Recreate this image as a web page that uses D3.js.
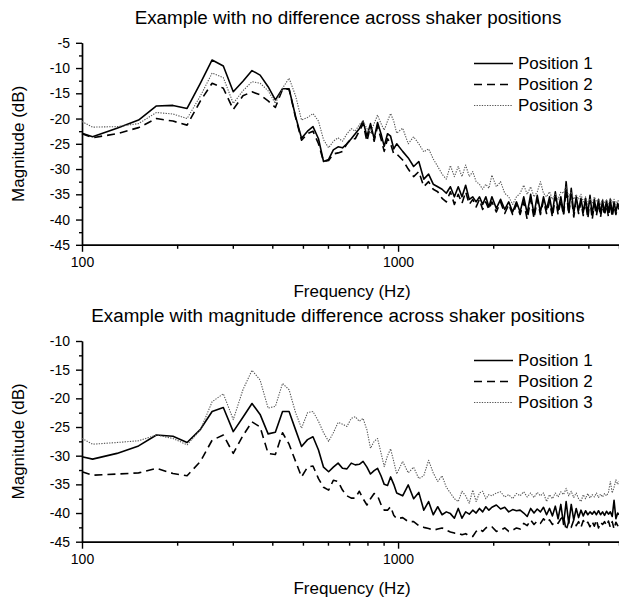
<!DOCTYPE html>
<html>
<head>
<meta charset="utf-8">
<script src="https://d3js.org/d3.v7.min.js"></script>
<style>
  body { margin: 0; background: #fff; }
  svg text { font-family: Arial, "Liberation Sans", sans-serif; fill: #000; }
</style>
</head>
<body>
<svg id="chart" width="619" height="599"></svg>
<script>
// Shaker position comparison - two frequency response panels

// frequency points (Hz), FFT bins below 1 kHz, thinned above
const freqHz = [100, 108, 129, 151, 172, 194, 215, 237, 258, 280, 301, 323, 345, 366, 388, 409, 431, 452, 474, 495,
  517, 538, 560, 581, 603, 624, 646, 667, 689, 711, 732, 754, 775, 797, 818, 840, 861, 883, 904, 926, 947, 969, 990,
  1034, 1077, 1120, 1163, 1206, 1249, 1292, 1335, 1378, 1421, 1464, 1507, 1550, 1593, 1636, 1680, 1723, 1766, 1809, 1852, 1895, 1938, 1981,
  2046, 2110, 2175, 2239, 2304, 2369, 2433, 2498, 2562, 2627, 2692, 2756, 2821, 2885, 2950, 3015, 3079, 3144, 3208, 3273,
  3338, 3402, 3467, 3531, 3596, 3661, 3725, 3790, 3854, 3919, 3984, 4048, 4113, 4177, 4242, 4307, 4371, 4436, 4500, 4565,
  4630, 4694, 4759, 4823, 4888, 4953, 5000];

// top panel: no difference
const topPos1 = [-22.9, -23.6, -21.9, -20.3, -17.5, -17.4, -18.0, -13.0, -8.4, -9.6, -14.7, -12.6, -10.5, -11.4, -13.7, -16.3, -14.1, -14.1, -19.6, -23.9,
  -22.5, -21.6, -24.0, -28.5, -28.1, -26.2, -25.6, -25.8, -25.0, -24.0, -23.0, -22.0, -20.5, -23.5, -21.0, -24.0, -20.8, -23.0, -25.5, -23.0, -23.5, -26.0, -25.0,
  -26.5, -27.8, -29.5, -28.5, -32.0, -31.0, -33.0, -33.5, -34.0, -34.8, -33.5, -35.5, -33.5, -35.5, -33.2, -36.0, -35.5, -36.5, -35.5, -37.0, -35.5, -37.5, -35.5,
  -37.8, -36.0, -38.0, -36.5, -38.5, -36.5, -38.5, -35.5, -38.8, -35.0, -39.0, -35.2, -38.5, -35.5, -38.0, -35.5, -38.8, -34.5, -38.2, -35.5,
  -38.8, -32.5, -38.5, -33.8, -38.8, -35.5, -38.2, -35.8, -38.6, -35.8, -38.8, -35.2, -39.0, -36.0, -38.5, -36.0, -38.8, -36.2, -38.6, -36.2,
  -38.5, -36.0, -38.8, -36.5, -38.5, -36.8, -37.5];
const topPos2 = [-23.0, -23.8, -23.0, -21.8, -20.0, -20.5, -21.3, -16.5, -13.0, -14.0, -18.2, -15.5, -14.7, -15.3, -16.5, -17.8, -14.2, -14.2, -19.8, -24.3,
  -23.0, -22.5, -25.0, -28.5, -28.3, -27.0, -26.8, -26.5, -25.0, -24.0, -24.0, -22.5, -21.0, -24.5, -21.5, -24.5, -21.5, -24.0, -26.5, -24.0, -25.0, -27.0, -27.0,
  -28.2, -30.0, -31.5, -30.5, -33.5, -32.5, -34.0, -34.5, -35.8, -36.5, -34.5, -37.0, -35.0, -36.8, -34.5, -37.0, -36.0, -37.5, -36.0, -38.0, -36.5, -38.0, -36.5,
  -38.5, -36.5, -38.8, -37.0, -39.0, -37.0, -39.0, -36.5, -40.0, -36.0, -39.8, -36.0, -39.0, -36.2, -38.8, -36.5, -39.5, -35.5, -39.0, -36.2,
  -39.2, -34.0, -39.0, -35.0, -39.5, -36.2, -38.8, -36.5, -39.2, -36.5, -39.8, -36.0, -40.0, -37.0, -39.2, -36.8, -39.5, -37.0, -39.2, -37.0,
  -39.5, -36.8, -39.5, -37.2, -39.0, -37.5, -38.0];
const topPos3 = [-20.6, -21.7, -21.6, -21.0, -18.8, -19.1, -20.0, -15.5, -11.0, -11.9, -17.0, -14.5, -12.7, -13.0, -14.5, -17.0, -14.0, -12.0, -15.5, -20.3,
  -19.8, -19.0, -20.5, -24.2, -25.8, -24.5, -23.8, -24.5, -23.0, -22.0, -22.5, -21.2, -20.5, -22.0, -22.8, -21.0, -19.3, -21.0, -22.3, -20.5, -19.0, -20.5, -22.9,
  -21.9, -25.0, -23.6, -25.0, -26.6, -26.0, -28.0, -29.5, -31.0, -32.0, -29.3, -31.5, -29.5, -31.5, -29.2, -31.5, -30.5, -32.5, -33.0, -34.0, -33.0, -33.8, -31.2,
  -33.5, -32.5, -34.8, -35.5, -37.0, -35.5, -34.8, -33.2, -35.0, -33.5, -35.5, -34.5, -32.5, -34.8, -35.5, -34.5, -36.0, -35.0, -36.0, -34.5,
  -34.8, -33.5, -35.5, -34.5, -36.0, -35.0, -36.0, -35.0, -36.5, -35.5, -37.0, -35.8, -36.8, -35.5, -36.5, -36.0, -37.0, -36.0, -36.8, -36.2,
  -37.0, -35.8, -36.8, -36.0, -37.0, -36.2, -36.5];

// bottom panel: magnitude difference
const botPos1 = [-30.2, -30.6, -29.6, -28.3, -26.4, -26.6, -27.7, -25.4, -22.3, -21.6, -25.8, -23.3, -20.9, -22.8, -26.2, -25.9, -22.3, -22.3, -25.5, -28.4,
  -27.2, -26.7, -29.0, -32.0, -32.8, -32.0, -31.3, -32.2, -32.3, -31.3, -31.6, -31.5, -31.0, -32.0, -33.2, -32.6, -32.2, -33.5, -35.0, -35.2, -33.7, -35.0, -36.5,
  -37.0, -35.1, -37.5, -36.4, -39.5, -38.0, -40.3, -38.9, -40.3, -39.8, -40.1, -40.9, -39.2, -40.9, -39.8, -40.2, -39.5, -40.0, -39.2, -39.8, -38.9, -39.5, -39.0,
  -38.6, -39.3, -39.0, -39.8, -39.4, -39.6, -39.5, -40.0, -40.6, -39.2, -40.0, -39.3, -39.8, -39.0, -40.3, -39.2, -40.5, -38.8, -41.0, -38.5,
  -42.0, -38.0, -41.8, -38.5, -41.2, -39.2, -40.8, -39.5, -40.5, -39.6, -40.3, -39.8, -40.2, -39.7, -40.3, -39.6, -40.3, -39.8, -40.4, -39.7,
  -40.2, -39.8, -40.6, -37.8, -41.0, -40.0, -40.3];
const botPos2 = [-32.8, -33.4, -33.2, -33.0, -32.2, -33.1, -33.5, -31.0, -27.3, -26.4, -29.6, -26.5, -24.1, -25.0, -29.6, -29.8, -26.0, -28.0, -31.0, -33.7,
  -32.0, -31.8, -34.0, -35.5, -36.0, -34.3, -34.5, -36.0, -37.0, -37.4, -37.4, -36.2, -37.5, -38.6, -37.5, -36.6, -37.0, -38.5, -39.5, -39.5, -38.9, -40.4, -41.0,
  -40.8, -41.5, -41.5, -42.2, -42.5, -42.7, -43.0, -42.8, -42.6, -43.0, -43.3, -43.5, -43.5, -43.8, -43.6, -44.0, -44.1, -43.2, -42.8, -43.2, -42.6, -42.3, -42.4,
  -43.2, -43.0, -42.6, -43.2, -43.0, -42.6, -42.8, -41.8, -42.2, -41.2, -42.0, -41.4, -41.8, -41.0, -41.6, -41.2, -42.0, -41.5, -41.8, -41.0,
  -40.6, -43.0, -41.5, -42.5, -41.2, -42.2, -41.5, -42.5, -41.3, -42.0, -41.6, -42.4, -41.5, -42.3, -41.2, -42.6, -41.6, -42.0, -41.5, -42.2,
  -41.4, -42.5, -41.5, -42.8, -41.6, -42.2, -41.8];
const botPos3 = [-27.0, -28.0, -27.7, -27.4, -26.4, -27.0, -28.1, -25.5, -20.6, -19.2, -23.7, -18.5, -15.1, -16.8, -21.7, -21.4, -17.4, -18.5, -22.5, -25.2,
  -22.5, -22.3, -24.0, -26.0, -27.5, -26.0, -24.2, -24.5, -24.9, -23.5, -23.2, -24.0, -23.5, -25.5, -28.7, -27.5, -27.0, -29.5, -31.9, -30.0, -28.8, -31.0, -33.2,
  -31.0, -33.0, -32.0, -34.0, -33.5, -30.8, -33.0, -34.5, -33.5, -35.5, -36.5, -37.5, -38.0, -36.2, -37.0, -38.3, -36.0, -38.0, -36.5, -36.2, -37.5, -36.8, -37.0,
  -36.5, -36.3, -37.2, -36.8, -37.5, -36.6, -37.0, -36.3, -37.2, -36.5, -37.3, -36.4, -37.0, -36.5, -38.0, -36.8, -37.5, -36.5, -37.2, -36.3,
  -36.8, -35.7, -37.0, -36.2, -37.3, -36.5, -37.5, -38.0, -36.8, -37.5, -36.6, -37.4, -36.8, -37.2, -36.5, -37.3, -36.7, -37.2, -36.6, -37.0,
  -36.4, -34.5, -36.5, -35.5, -34.2, -35.0, -34.5];

const seriesNames = ["Position 1", "Position 2", "Position 3"];
const xLabelTicks = [100, 1000];
const xMinorTicks = [200, 300, 400, 500, 600, 700, 800, 900, 2000, 3000, 4000, 5000];
const topYTicks = [-5, -10, -15, -20, -25, -30, -35, -40, -45];
const botYTicks = [-10, -15, -20, -25, -30, -35, -40, -45];

// line styles per position
const styles = [
  { stroke: "#000", width: 1.6, dash: null },
  { stroke: "#000", width: 1.6, dash: "8,5" },
  { stroke: "#555", width: 1.1, dash: "1.3,1.3" }
];

const svg = d3.select("#chart");

function drawPanel(p) {

  const xScale = d3.scaleLog()
                   .domain([100, 5000])
                   .range([82, 619]);

  const yScale = d3.scaleLinear()
                   .domain([-45, p.yMax])
                   .range([p.yBottom, p.yTop]);

  const g = svg.append("g");

  //Title
  g.append("text")
   .attr("x", p.titleX)
   .attr("y", p.titleY)
   .attr("text-anchor", "middle")
   .style("font-size", "18.8px")
   .text(p.title);

  //Axes - minor ticks first, then labelled ones
  const minorY = [];
  for (let v = p.yMax - 2.5; v > -45; v -= 5) minorY.push(v);

  g.append("g")
   .attr("transform", "translate(0," + p.yBottom + ")")
   .call(d3.axisBottom(xScale).tickValues(xMinorTicks).tickSize(4).tickSizeOuter(0).tickFormat(""));

  g.append("g")
   .attr("class", "x-axis")
   .attr("transform", "translate(0," + p.yBottom + ")")
   .call(d3.axisBottom(xScale).tickValues(xLabelTicks).tickSize(7).tickSizeOuter(0).tickPadding(5).tickFormat(d => d));

  g.append("g")
   .attr("transform", "translate(82,0)")
   .call(d3.axisLeft(yScale).tickValues(minorY).tickSize(3).tickSizeOuter(0).tickFormat(""));

  g.append("g")
   .attr("class", "y-axis")
   .attr("transform", "translate(82,0)")
   .call(d3.axisLeft(yScale).tickValues(p.yTicks).tickSize(6).tickSizeOuter(0).tickPadding(6).tickFormat(d => String(d)));

  g.selectAll(".domain, .tick line")
   .attr("stroke", "#000")
   .attr("stroke-width", 1.4);

  g.selectAll(".tick text")
   .style("font-size", "14px")
   .attr("fill", "#000");

  //Axis labels
  g.append("text")
   .attr("x", 352)
   .attr("y", p.yBottom + 52)
   .attr("text-anchor", "middle")
   .style("font-size", "17px")
   .text("Frequency (Hz)");

  g.append("text")
   .attr("transform", "translate(24," + (p.yBottom + p.yTop) / 2 + ") rotate(-90)")
   .attr("text-anchor", "middle")
   .style("font-size", "17px")
   .text("Magnitude (dB)");

  //Lines
  const line = d3.line()
                 .x(d => xScale(d[0]))
                 .y(d => yScale(d[1]));

  p.series.forEach((vals, i) => {
    const path = g.append("path")
                  .datum(d3.zip(freqHz, vals))
                  .attr("fill", "none")
                  .attr("stroke", styles[i].stroke)
                  .attr("stroke-width", styles[i].width)
                  .attr("stroke-linejoin", "round")
                  .attr("d", line);
    if (styles[i].dash) path.attr("stroke-dasharray", styles[i].dash);
  });

  //Legend
  const legend = g.append("g");
  seriesNames.forEach((name, i) => {
    const ly = p.legendY + i * 21;
    const s = legend.append("line")
                    .attr("x1", 474)
                    .attr("x2", 513)
                    .attr("y1", ly)
                    .attr("y2", ly)
                    .attr("stroke", styles[i].stroke)
                    .attr("stroke-width", styles[i].width);
    if (styles[i].dash) s.attr("stroke-dasharray", styles[i].dash);
    legend.append("text")
          .attr("x", 518)
          .attr("y", ly)
          .attr("dy", "0.35em")
          .style("font-size", "17px")
          .text(name);
  });
}

drawPanel({
  title: "Example with no difference across shaker positions",
  titleX: 348, titleY: 24,
  yMax: -5, yTop: 42.8, yBottom: 244.8,
  yTicks: topYTicks,
  series: [topPos1, topPos2, topPos3],
  legendY: 63.5
});

drawPanel({
  title: "Example with magnitude difference across shaker positions",
  titleX: 338, titleY: 322,
  yMax: -10, yTop: 341, yBottom: 541.7,
  yTicks: botYTicks,
  series: [botPos1, botPos2, botPos3],
  legendY: 360.5
});
</script>
</body>
</html>
